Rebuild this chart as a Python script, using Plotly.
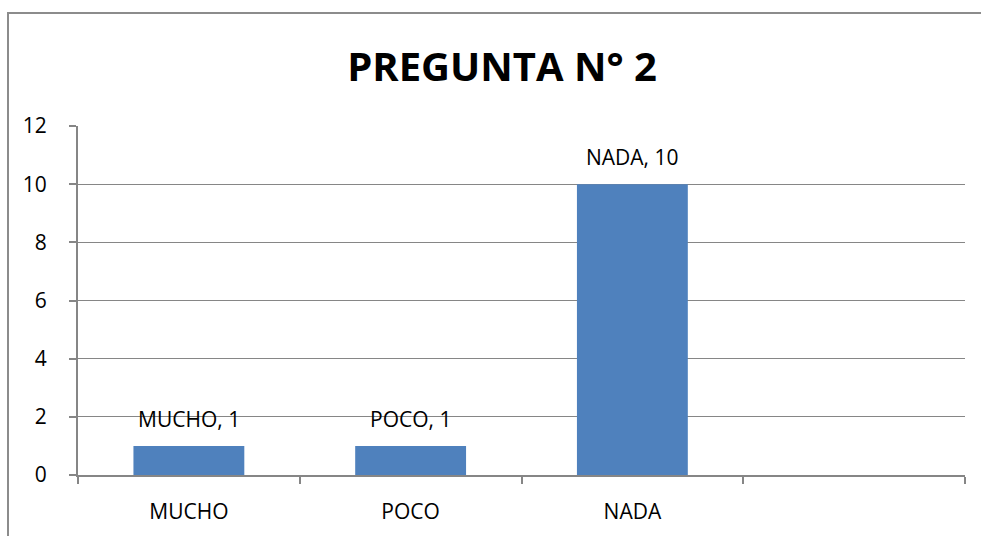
import plotly.graph_objects as go

categories = ["MUCHO", "POCO", "NADA", " "]
values = [1, 1, 10, None]
labels = ["MUCHO, 1", "POCO, 1", "NADA, 10"]
y_ticks = [0, 2, 4, 6, 8, 10, 12]

W, H = 981, 536
L, R, T, B = 78, 16, 126, 61
pw, ph = W - L - R, H - T - B
FONT = "Open Sans, Noto Sans, Liberation Sans"

fig = go.Figure(go.Bar(
    x=categories, y=values,
    marker=dict(color="#4F81BD", line=dict(width=0)), width=0.5,
))

annotations = [
    dict(x=c, y=v, xref="x", yref="y", text=t, showarrow=False, yanchor="bottom",
         yshift=11, font=dict(family=FONT, size=21, color="black"))
    for c, v, t in zip(categories, values, labels)
]

fig.update_layout(
    width=W, height=H, margin=dict(l=L, r=R, t=T, b=B),
    plot_bgcolor="white", paper_bgcolor="white", showlegend=False,
    font=dict(family=FONT, size=21, color="black"),
    title=dict(text="<b>PREGUNTA N° 2</b>", x=502 / W, xanchor="center", y=1 - 67 / H, yanchor="middle",
               font=dict(family=FONT, size=40, color="black")),
    xaxis=dict(showline=True, linecolor="#868686", linewidth=2, ticks="outside", ticklen=7,
               tickcolor="#868686", tickwidth=2, tickson="boundaries", showgrid=False,
               ticklabelstandoff=17, tickfont=dict(size=21)),
    yaxis=dict(range=[0, 12], tickvals=y_ticks, showline=True, linecolor="#868686", linewidth=2,
               ticks="outside", ticklen=7, tickcolor="#868686", tickwidth=2,
               showgrid=True, gridcolor="#868686", gridwidth=1, zeroline=False,
               ticklabelstandoff=18, tickfont=dict(size=21)),
    annotations=annotations,
    shapes=[dict(type="rect", xref="paper", yref="paper",
                 x0=(8 - L) / pw, x1=(990 - L) / pw,
                 y0=-(B + 20) / ph, y1=(H - B - 13) / ph,
                 line=dict(color="#8C8C8C", width=2), layer="below")],
)

fig.write_html("out.html", config={"displayModeBar": False},
               post_script="document.body.style.margin='0';document.body.style.overflow='hidden';")
